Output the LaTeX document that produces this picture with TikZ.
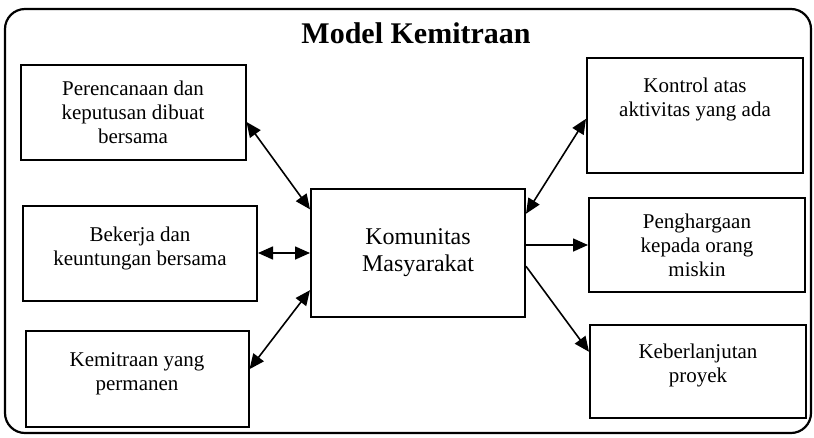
\documentclass[tikz,border=0pt]{standalone}
\usepackage{fontspec}
\setmainfont{Liberation Serif}
\usetikzlibrary{arrows.meta,positioning}

\begin{document}
\begin{tikzpicture}[x=1pt,y=-1pt,
  kotak/.style={draw, line width=2pt, rectangle, align=center, font=\fontsize{21}{24}\selectfont},
  panah/.style={line width=1.6pt, {Triangle[length=15pt,width=13pt]}-{Triangle[length=15pt,width=13pt]}},
  panahsatu/.style={line width=1.6pt, -{Triangle[length=15pt,width=13pt]}}]
\useasboundingbox (0,0) rectangle (814,437);
% Outer frame and title
\draw[line width=2.2pt, rounded corners=20pt] (5,9) rectangle (811,433);
\node[font=\fontsize{30}{33}\selectfont\bfseries] (judul) at (416,33) {Model Kemitraan};
% Left side
\node[kotak, minimum width=225pt, minimum height=95pt] (rencana) at (133,112) {Perencanaan dan\\keputusan dibuat\\bersama};
\node[kotak, minimum width=234pt, minimum height=95pt, text depth=14pt] (bekerja) at (140,253) {Bekerja dan\\keuntungan bersama};
\node[kotak, minimum width=223pt, minimum height=96pt, text depth=14pt] (permanen) at (137,379) {Kemitraan yang\\permanen};
% Centre
\node[kotak, minimum width=214pt, minimum height=128pt, font=\fontsize{24}{27}\selectfont] (komunitas) at (418,253) {Komunitas\\Masyarakat};
% Right side
\node[kotak, minimum width=216pt, minimum height=115pt, text depth=36pt] (kontrol) at (695,115) {Kontrol atas\\aktivitas yang ada};
\node[kotak, minimum width=216pt, minimum height=94pt] (hargai) at (697,245) {Penghargaan\\kepada orang\\miskin};
\node[kotak, minimum width=216pt, minimum height=93pt, text depth=16pt] (lanjut) at (698,371) {Keberlanjutan\\proyek};
% Arrows
\draw[panah] (rencana.-5) -- (komunitas.158);
\draw[panah] (bekerja.east) -- (bekerja.east -| komunitas.west);
\draw[panah] (permanen.5) -- (komunitas.199);
\draw[panah] (komunitas.20) -- (kontrol.182);
\draw[panahsatu] (komunitas.east |- hargai.west) -- (hargai.west);
\draw[panahsatu] (komunitas.-7) -- (lanjut.170);
\end{tikzpicture}
\end{document}
